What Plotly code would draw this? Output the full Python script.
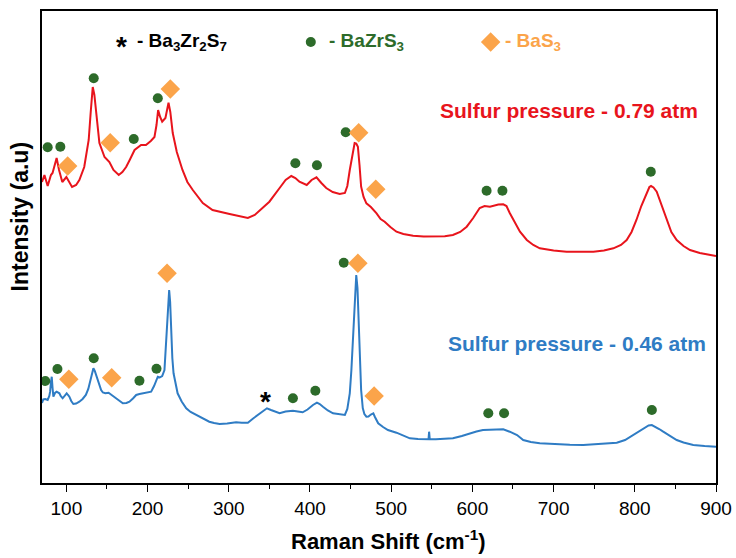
import plotly.graph_objects as go

# Raman spectrum, sulfur pressure 0.79 atm (intensity in arbitrary units)
shift_079 = [70, 73, 77, 81, 83, 88, 91, 95, 100, 103, 107, 112, 116, 122, 127.5, 130, 132.5, 134.5,
             136.6, 140.7, 147, 153, 158, 164.5, 169, 173.6, 178, 184, 192, 198, 204, 208.5, 211, 213,
             215.5, 218, 222, 224, 225.8, 228, 231, 236, 243, 249, 255.7, 268, 280, 301, 312, 323.5,
             332, 342, 350, 362.6, 370, 377, 382, 387, 392, 396, 402, 408, 414, 420, 428, 436.6, 443,
             446, 449, 452, 455, 457, 459, 461, 463, 466, 469.5, 475, 482, 487, 492, 499, 506.5, 515,
             527, 540, 556, 566, 576, 585, 593, 601, 609, 615, 621.6, 625.7, 632, 638, 642, 646, 652,
             658.6, 667, 675, 683, 700, 716, 733, 749, 762, 773.6, 783, 790, 796, 802, 808, 815, 818,
             820, 823, 827, 833, 839, 845, 851.6, 860, 868, 880, 890, 900]
int_079 = [301, 308, 297, 308, 310, 325, 313, 301, 306, 301, 296, 298, 303, 316, 343, 371, 396, 388,
           373, 340, 326, 321, 313, 308, 311, 316, 323, 333, 338, 338, 342, 346, 358, 373,
           366, 361.3, 365, 373, 380.3, 371, 350, 331, 313, 301, 293, 280, 273, 269, 267, 265,
           268, 275, 281.3, 295, 303, 307, 305, 301.3, 299, 298, 303, 305.7, 300, 295, 291, 289, 290,
           297, 313, 328, 340, 339.5, 336.3, 318, 296.3, 286, 279.7, 276, 269.7, 264, 261.3, 256, 251.3, 249,
           247.3, 246.5, 246.3, 246.7, 248, 251, 256.3, 265, 275, 277, 276.3, 277.3, 278.5, 278.7, 277, 270, 261,
           251.3, 243, 238, 234.7, 232.5, 231.3, 231, 231.3, 232.5, 234.7, 238, 243, 251, 263, 277, 291.3, 296,
           297, 295.5, 291.3, 278, 263, 251, 243, 237, 233, 230, 228.5, 227]

# Raman spectrum, sulfur pressure 0.46 atm (intensity in arbitrary units)
shift_046 = [70, 71.6, 74, 77, 79, 80, 81, 82, 83, 84, 86, 88, 91.4, 93, 95.4, 98, 100.4, 102, 103.7,
             106, 108.6, 112, 116, 120, 124, 127, 129.6, 131.5, 133.3, 135, 136.6, 138.6, 140.5, 142.8,
             145, 148, 152, 155, 159, 164, 169.5, 174, 177.7, 182, 186, 190, 196, 200, 204.4, 208,
             210.5, 212.6, 215, 218, 220.8, 222.5, 223.7, 225, 226.6, 227.8, 229, 230.5, 232, 234.5,
             237, 242, 247.6, 253, 260, 268, 276, 282, 288.7, 298, 309, 316, 323.5, 330, 338, 343, 347,
             352, 358.6, 362.6, 370, 379, 385, 391, 397, 403.7, 408.6, 412, 416, 422, 428.4, 436, 443,
             446, 449, 451, 453, 455, 457, 458.5, 460, 461.5, 463, 465, 467, 469.5, 472, 475, 478, 480,
             482, 484, 490, 496, 506.5, 515, 523, 533, 543.5, 546, 546.7, 547.5, 555, 566, 576, 587,
             597, 605, 613, 625, 638, 646, 655, 662.6, 672, 683, 700, 720, 736.6, 757, 777.8, 788, 798,
             805, 812, 817, 821, 825, 830, 835, 843, 851.6, 860, 872, 886, 900]
int_046 = [80, 83.7, 84, 83, 87, 91.3, 101, 106.3, 95, 86.3, 90, 91.3, 89.7, 87, 84.7, 87, 89.7, 88, 86.3,
           82, 79, 79.5, 81.3, 84, 88, 94, 103, 111, 114.7, 112, 108, 103, 97, 93,
           90.5, 89.7, 90.3, 88.5, 86.3, 82.5, 79.7, 80, 81.3, 84.5, 88, 89, 89.7, 90.2, 91.3, 97,
           103, 106.3, 105.5, 107, 113, 138, 159.7, 181, 193, 181, 149.7, 125, 109.7, 98,
           89.7, 81.5, 74.7, 71, 68, 64.5, 61.3, 60, 59, 59.5, 60.7, 60.2, 60.3, 64.5, 69.7, 73, 74.7,
           73, 71.3, 69.7, 71.5, 72.3, 71.5, 70.7, 73.5, 78, 80.3, 79, 76.3, 72.5, 69.7, 68.5, 68,
           74, 89.7, 113, 149.7, 188, 208, 195, 166.3, 128, 93, 75, 69, 66.3, 66.5, 68.5, 69.7, 66,
           62, 59.7, 56, 53, 50.3, 47.5, 44.7, 44, 43.7, 43.7, 51.3, 43.7, 43.7, 44.2, 44.7, 47,
           49.7, 51.5, 53, 53.5, 53.7, 51.3, 48, 43, 41, 39.7, 38.8, 38.2, 38, 39, 40.3, 43, 48,
           52, 55.5, 57.5, 58, 56.5, 54, 51.3, 47, 43, 40.5, 38, 37, 36.3]

# Phase assignments for the 0.79 atm spectrum
bazrs3_x_079 = [77, 92.6, 133.7, 183, 212.6, 382, 408.6, 444, 617.5, 637, 819.7]
bazrs3_y_079 = [335.7, 336.3, 404.7, 344, 384.7, 319.7, 317.7, 350.7, 292.3, 292.3, 311.3]
bas3_x_079 = [101.6, 154, 228, 460, 481]
bas3_y_079 = [317, 340.3, 394, 350.3, 293.7]

# Phase assignments for the 0.46 atm spectrum
bazrs3_x_046 = [74, 89, 133.7, 190, 211, 379, 406.6, 441.6, 619.6, 639, 821]
bazrs3_y_046 = [102, 114, 124.7, 102.3, 114.3, 84.7, 92.3, 220.3, 69.7, 69.7, 73]
bas3_x_046 = [103, 155.8, 224, 459, 479]
bas3_y_046 = [103.7, 105.3, 209.7, 219.7, 87]
ba3zr2s7_x_046 = [345]
ba3zr2s7_y_046 = [85.7]

RED = "#e8141c"
BLUE = "#2f7cc4"
GREEN = "#2d6b2a"
ORANGE = "#fba44a"
FONT = "Liberation Sans, Arial, sans-serif"

fig = go.Figure()

fig.add_trace(go.Scatter(x=shift_079, y=int_079, mode="lines",
                         line=dict(color=RED, width=2), hoverinfo="skip"))
fig.add_trace(go.Scatter(x=shift_046, y=int_046, mode="lines",
                         line=dict(color=BLUE, width=2), hoverinfo="skip"))

circle = dict(symbol="circle", size=10, color=GREEN, line=dict(width=0))
diamond = dict(symbol="diamond", size=15, color=ORANGE, line=dict(width=0))

fig.add_trace(go.Scatter(x=bazrs3_x_079 + bazrs3_x_046, y=bazrs3_y_079 + bazrs3_y_046,
                         mode="markers", marker=circle))
fig.add_trace(go.Scatter(x=bas3_x_079 + bas3_x_046, y=bas3_y_079 + bas3_y_046,
                         mode="markers", marker=diamond))

# Key of phase symbols along the top
key_y = 441
fig.add_trace(go.Scatter(x=[401], y=[key_y], mode="markers", marker=circle))
fig.add_trace(go.Scatter(x=[622.5], y=[key_y], mode="markers", marker=diamond))


def star(x, y):
    # bold asterisk glyph, nudged down so the glyph centre sits on (x, y)
    return dict(x=x, y=y, xref="x", yref="y", text="<b>*</b>", showarrow=False,
                xanchor="center", yanchor="middle", yshift=-4,
                font=dict(size=28, color="black", family=FONT))


annotations = [star(168, key_y)]
annotations += [star(sx, sy) for sx, sy in zip(ba3zr2s7_x_046, ba3zr2s7_y_046)]

key_labels = [
    dict(x=184, y=key_y, text="<b>- Ba<sub>3</sub>Zr<sub>2</sub>S<sub>7</sub></b>",
         font=dict(size=19, color="black", family=FONT)),
    dict(x=421, y=key_y, text="<b>- BaZrS<sub>3</sub></b>",
         font=dict(size=19, color=GREEN, family=FONT)),
    dict(x=638, y=key_y, text="<b>- BaS<sub>3</sub></b>",
         font=dict(size=19, color=ORANGE, family=FONT)),
]
for a in key_labels:
    a.update(xref="x", yref="y", xanchor="left", yanchor="middle", showarrow=False)
annotations += key_labels

annotations += [
    dict(x=719, y=373, xref="x", yref="y", text="<b>Sulfur pressure - 0.79 atm</b>",
         font=dict(size=21, color=RED, family=FONT), showarrow=False,
         xanchor="center", yanchor="middle"),
    dict(x=729, y=140, xref="x", yref="y", text="<b>Sulfur pressure - 0.46 atm</b>",
         font=dict(size=21, color=BLUE, family=FONT), showarrow=False,
         xanchor="center", yanchor="middle"),
    dict(x=-0.032, y=(483 - 216) / 472, xref="paper", yref="paper",
         text="<b>Intensity (a.u)</b>", textangle=-90,
         font=dict(size=23, color="black", family=FONT), showarrow=False,
         xanchor="center", yanchor="middle"),
    dict(x=(388 - 42) / 674, y=(483 - 540) / 472, xref="paper", yref="paper",
         text="<b>Raman Shift (cm<sup>-1</sup>)</b>",
         font=dict(size=22, color="black", family=FONT), showarrow=False,
         xanchor="center", yanchor="middle"),
]

fig.update_layout(
    width=736, height=558,
    margin=dict(l=42, r=20, t=11, b=75),
    paper_bgcolor="white", plot_bgcolor="white",
    showlegend=False,
    annotations=annotations,
    font=dict(family=FONT, color="black"),
)

fig.update_xaxes(
    range=[70, 900], tickvals=[100, 200, 300, 400, 500, 600, 700, 800, 900],
    ticks="outside", ticklen=7, tickwidth=1.2, tickcolor="black",
    minor=dict(ticks="outside", dtick=50, tick0=0, ticklen=4, tickwidth=1.2, tickcolor="black"),
    showline=True, linecolor="black", linewidth=1.5, mirror=True,
    showgrid=False, zeroline=False, automargin=False,
    tickfont=dict(size=19, color="black", family=FONT),
)
fig.update_yaxes(
    range=[0, 472], showticklabels=False, ticks="",
    showline=True, linecolor="black", linewidth=1.5, mirror=True,
    showgrid=False, zeroline=False, automargin=False,
)

fig.write_html("out.html")
